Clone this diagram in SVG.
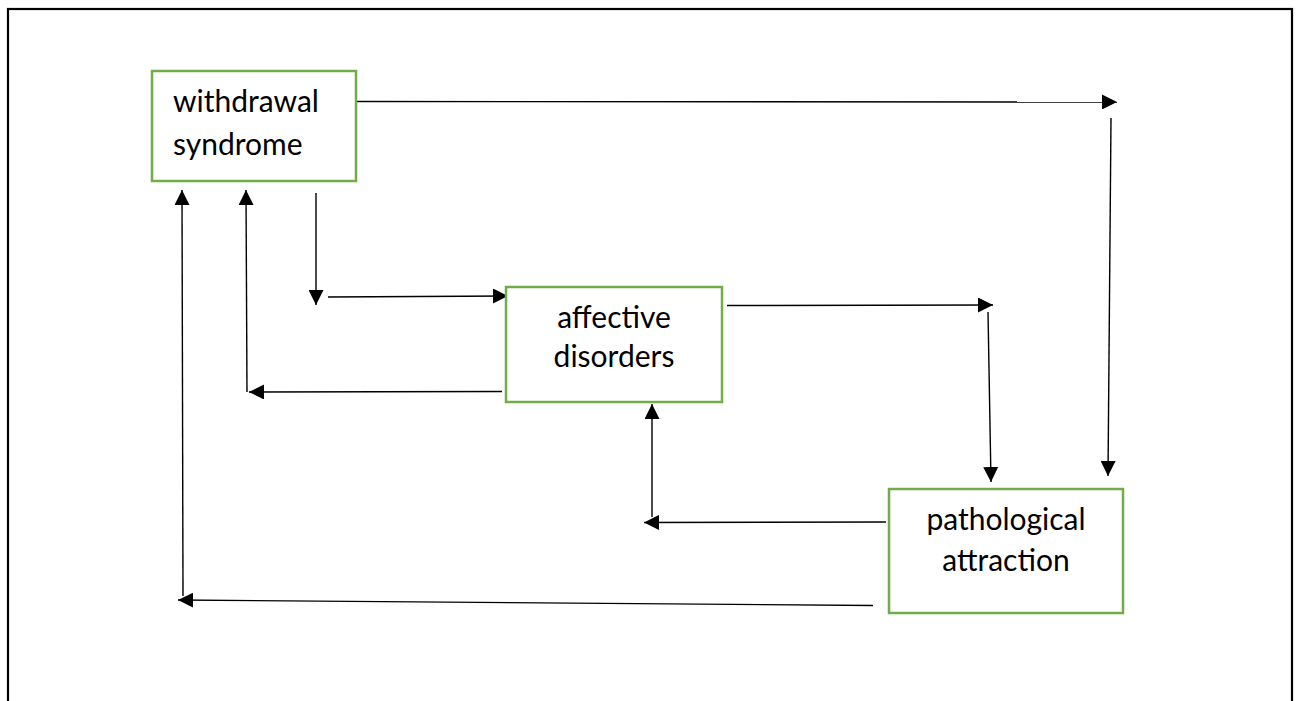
<svg xmlns="http://www.w3.org/2000/svg" width="1298" height="701" viewBox="0 0 1298 701">
<style>
.node rect{fill:#fff;stroke:#70AD47;stroke-width:2.5}
.node text{font-family:Lato,"Liberation Sans",sans-serif;font-size:30px;fill:#000}
.conn line{stroke:#000;stroke-width:1.4;fill:none;marker-end:url(#ah)}
.conn line.plain{marker-end:none}
</style>
<defs>
<marker id="ah" markerUnits="userSpaceOnUse" markerWidth="16" markerHeight="15" refX="15" refY="7.5" orient="auto">
<path d="M0,0 L15,7.5 L0,15 Z" fill="#000"/>
</marker>
</defs>
<rect x="8" y="9" width="1284" height="720" fill="#fff" stroke="#000" stroke-width="2.2"/>
<g id="connectors" class="conn">
<line x1="356" y1="101.5" x2="1117" y2="102"/>
<line x1="1111" y1="118" x2="1108" y2="476"/>
<line x1="727" y1="305.5" x2="993" y2="305"/>
<line x1="988" y1="312" x2="991" y2="482"/>
<line x1="886" y1="522" x2="644" y2="522.5"/>
<line x1="652" y1="517" x2="652" y2="404"/>
<line x1="873" y1="605.5" x2="178" y2="600"/>
<line x1="183" y1="596" x2="182" y2="190"/>
<line x1="247" y1="392" x2="246" y2="190"/>
<line x1="502" y1="391.5" x2="249" y2="392"/>
<line x1="316" y1="193" x2="316" y2="305"/>
<line x1="328" y1="297" x2="508" y2="296"/>
</g>
<g id="withdrawal-syndrome" class="node">
<rect x="152" y="71" width="204" height="110"/>
<text x="173" y="112">withdrawal</text>
<text x="173" y="155">syndrome</text>
</g>
<g id="affective-disorders" class="node">
<rect x="506" y="287" width="216" height="115"/>
<text x="614" y="328" text-anchor="middle">affective</text>
<text x="614" y="367" text-anchor="middle">disorders</text>
</g>
<g id="pathological-attraction" class="node">
<rect x="889" y="489" width="234" height="124"/>
<text x="1006" y="530" text-anchor="middle">pathological</text>
<text x="1006" y="571" text-anchor="middle">attraction</text>
</g>
</svg>
